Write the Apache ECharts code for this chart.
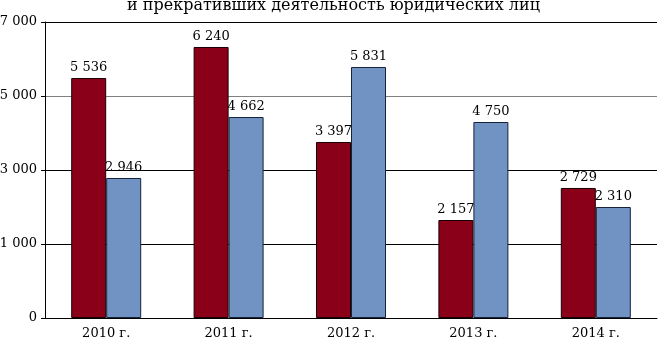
<!DOCTYPE html>
<html>
<head>
<meta charset="utf-8">
<script src="https://cdn.jsdelivr.net/npm/echarts@6/dist/echarts.min.js"></script>
<style>
  html, body { margin: 0; padding: 0; background: #fff; }
  #chart { width: 667px; height: 339px; }
</style>
</head>
<body>
<div id="chart"></div>
<script>
// годы
const years = ["2010 г.", "2011 г.", "2012 г.", "2013 г.", "2014 г."]
// подписи над столбцами (как напечатано)
const redLabels = [5536, 6240, 3397, 2157, 2729]
const blueLabels = [2946, 4662, 5831, 4750, 2310]
const redHeights = [6486, 7324, 4757, 2649, 3514]
const blueHeights = [3784, 5432, 6784, 5297, 3000]
// подписи делений оси Y (шаг 2000 на оси)
const yTickLabels = ["0", "1 000", "3 000", "5 000", "7 000"]

const font = "DejaVu Serif"
const fmt = (n) => String(n).replace(/\B(?=(\d{3})+(?!\d))/g, " ")

const chart = echarts.init(document.getElementById("chart"))

const barLabel = (labels) => ({
  show: true,
  position: "top",
  distance: 4,
  fontFamily: font,
  fontSize: 13,
  color: "#000",
  formatter: (p) => fmt(labels[p.dataIndex]),
})

const option = {
  animation: false,
  title: {
    text: "и прекративших деятельность юридических лиц",
    left: "center",
    top: -7,
    textStyle: {
      fontFamily: font,
      fontSize: 16,
      fontWeight: "normal",
      color: "#000",
    },
  },
  grid: {
    left: 45,
    right: 10,
    top: 22,
    bottom: 21,
    outerBoundsMode: "none",
  },
  xAxis: {
    type: "category",
    data: years,
    axisLine: { lineStyle: { color: "#000", width: 1 } },
    axisTick: { show: false },
    axisLabel: {
      fontFamily: font,
      fontSize: 13,
      color: "#000",
      margin: 9,
    },
  },
  yAxis: {
    type: "value",
    min: 0,
    max: 8000,
    interval: 2000,
    axisLine: { show: true, lineStyle: { color: "#000", width: 1 } },
    axisTick: { show: true, length: 4, lineStyle: { color: "#000" } },
    axisLabel: {
      fontFamily: font,
      fontSize: 13,
      color: "#000",
      margin: 8,
      formatter: (v) => yTickLabels[v / 2000],
    },
    splitLine: {
      lineStyle: {
        color: ["#000", "#000", "#000", "#808080", "#000"],
        width: 1,
      },
    },
  },
  series: [
    {
      name: "red",
      type: "bar",
      data: redHeights,
      barWidth: 35,
      barGap: "0%",
      itemStyle: {
        color: "#8a0018",
        borderColor: "#1a0005",
        borderWidth: 1,
      },
      label: barLabel(redLabels),
    },
    {
      name: "blue",
      type: "bar",
      data: blueHeights,
      barWidth: 35,
      itemStyle: {
        color: "#7093c3",
        borderColor: "#16233a",
        borderWidth: 1,
      },
      label: barLabel(blueLabels),
    },
  ],
}
chart.setOption(option)
</script>
</body>
</html>
